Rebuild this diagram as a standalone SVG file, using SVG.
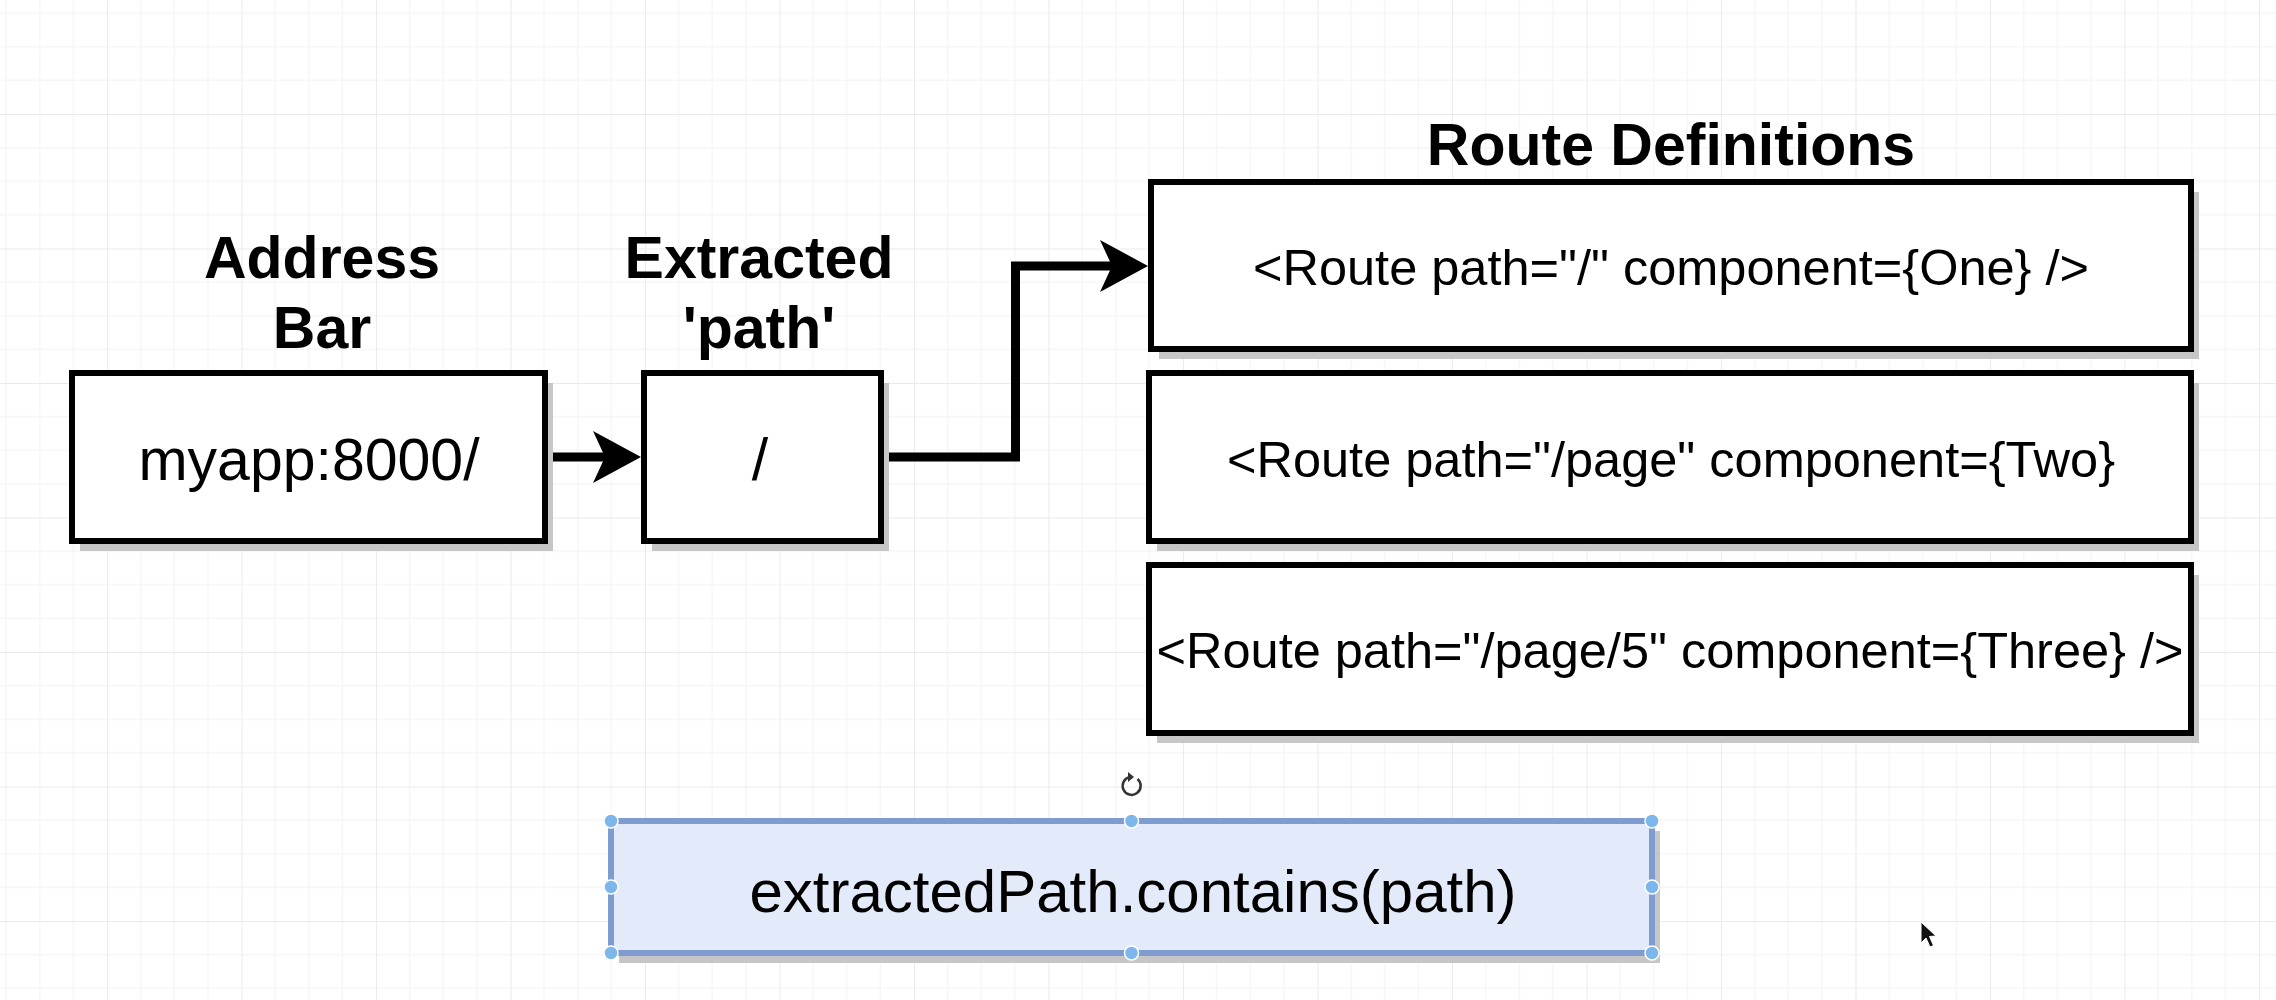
<svg xmlns="http://www.w3.org/2000/svg" width="2276" height="1000" viewBox="0 0 2276 1000">
  <style>
    .box { fill: #ffffff; stroke: #000000; stroke-width: 6; }
    .shadow { fill: #c6c6c6; }
    .title { font-family: "Liberation Sans", Arial, sans-serif; font-weight: bold; font-size: 59px; fill: #000; text-anchor: middle; }
    .big { font-family: "Liberation Sans", Arial, sans-serif; font-size: 59px; fill: #000; text-anchor: middle; }
    .route { font-family: "Liberation Sans", Arial, sans-serif; font-size: 50.5px; fill: #000; text-anchor: middle; }
    .conn { fill: none; stroke: #000; stroke-width: 9; stroke-linejoin: miter; }
    .handle { fill: #7db6ea; stroke: #ffffff; stroke-width: 1.5; }
    .minor { stroke: #f6f6f6; stroke-width: 1.5; }
    .major { stroke: #ebebeb; stroke-width: 2; }
  </style>
  <defs>
    <pattern id="grid" x="107" y="114" width="134.5" height="134.5" patternUnits="userSpaceOnUse">
      <line class="minor" x1="33.6" y1="0" x2="33.6" y2="134.5"/>
      <line class="minor" x1="67.25" y1="0" x2="67.25" y2="134.5"/>
      <line class="minor" x1="100.9" y1="0" x2="100.9" y2="134.5"/>
      <line class="minor" x1="0" y1="33.6" x2="134.5" y2="33.6"/>
      <line class="minor" x1="0" y1="67.25" x2="134.5" y2="67.25"/>
      <line class="minor" x1="0" y1="100.9" x2="134.5" y2="100.9"/>
      <line class="major" x1="0" y1="0" x2="0" y2="134.5"/>
      <line class="major" x1="0" y1="0" x2="134.5" y2="0"/>
    </pattern>
    <marker id="arrow" markerUnits="userSpaceOnUse" markerWidth="50" markerHeight="54" refX="12" refY="26" orient="auto" overflow="visible">
      <path d="M0,0 L48,26 L0,52 L12,26 Z" fill="#000"/>
    </marker>
  </defs>

  <rect x="0" y="0" width="2276" height="1000" fill="#ffffff"/>
  <rect x="0" y="0" width="2276" height="1000" fill="url(#grid)"/>

  <!-- Labels -->
  <g id="label-address">
    <text class="title" x="322" y="278">Address</text>
    <text class="title" x="322" y="348">Bar</text>
  </g>
  <g id="label-extracted">
    <text class="title" x="759" y="278">Extracted</text>
    <text class="title" x="759" y="348">'path'</text>
  </g>
  <g id="label-routes">
    <text class="title" x="1671" y="165">Route Definitions</text>
  </g>

  <!-- Connectors -->
  <g id="connectors">
    <path class="conn" d="M546,457 H605" marker-end="url(#arrow)"/>
    <path class="conn" d="M882,457 H1015.5 V266 H1112" marker-end="url(#arrow)"/>
  </g>

  <!-- Nodes -->
  <g id="address-bar">
    <rect class="shadow" x="80" y="383" width="473" height="168"/>
    <rect class="box" x="72" y="373" width="473" height="168"/>
    <text class="big" x="309" y="480">myapp:8000/</text>
  </g>
  <g id="extracted-path">
    <rect class="shadow" x="652" y="383" width="237" height="168"/>
    <rect class="box" x="644" y="373" width="237" height="168"/>
    <text class="big" x="760" y="480">/</text>
  </g>
  <g id="route-one">
    <rect class="shadow" x="1159" y="192" width="1040" height="167"/>
    <rect class="box" x="1151" y="182" width="1040" height="167"/>
    <text class="route" x="1671" y="285">&lt;Route path="/" component={One} /&gt;</text>
  </g>
  <g id="route-two">
    <rect class="shadow" x="1157" y="383" width="1042" height="168"/>
    <rect class="box" x="1149" y="373" width="1042" height="168"/>
    <text class="route" x="1671" y="477">&lt;Route path="/page" component={Two}</text>
  </g>
  <g id="route-three">
    <rect class="shadow" x="1157" y="575" width="1042" height="168"/>
    <rect class="box" x="1149" y="565" width="1042" height="168"/>
    <text class="route" x="1670" y="668">&lt;Route path="/page/5" component={Three} /&gt;</text>
  </g>
  <g id="contains-box">
    <rect class="shadow" x="619" y="831" width="1041" height="132"/>
    <rect x="611" y="821" width="1041" height="132" fill="#e3eaf9" stroke="#7f9bd0" stroke-width="6"/>
    <text class="big" x="1133" y="912" style="font-size:60px">extractedPath.contains(path)</text>
    <circle class="handle" cx="611" cy="821" r="7"/>
    <circle class="handle" cx="1131.5" cy="821" r="7"/>
    <circle class="handle" cx="1652" cy="821" r="7"/>
    <circle class="handle" cx="611" cy="887" r="7"/>
    <circle class="handle" cx="1652" cy="887" r="7"/>
    <circle class="handle" cx="611" cy="953" r="7"/>
    <circle class="handle" cx="1131.5" cy="953" r="7"/>
    <circle class="handle" cx="1652" cy="953" r="7"/>
    <path d="M1137.5,779 A9,9 0 1 1 1130,777" fill="none" stroke="#333" stroke-width="2.5"/>
    <path d="M1128,772 L1134,777 L1128,782 Z" fill="#333"/>
  </g>

  <!-- Mouse pointer -->
  <path d="M1921,922 L1921,943 L1926,938 L1930,947 L1933.5,945.5 L1929.5,936.5 L1936,936 Z" fill="#111" stroke="#ffffff" stroke-width="1"/>
</svg>
